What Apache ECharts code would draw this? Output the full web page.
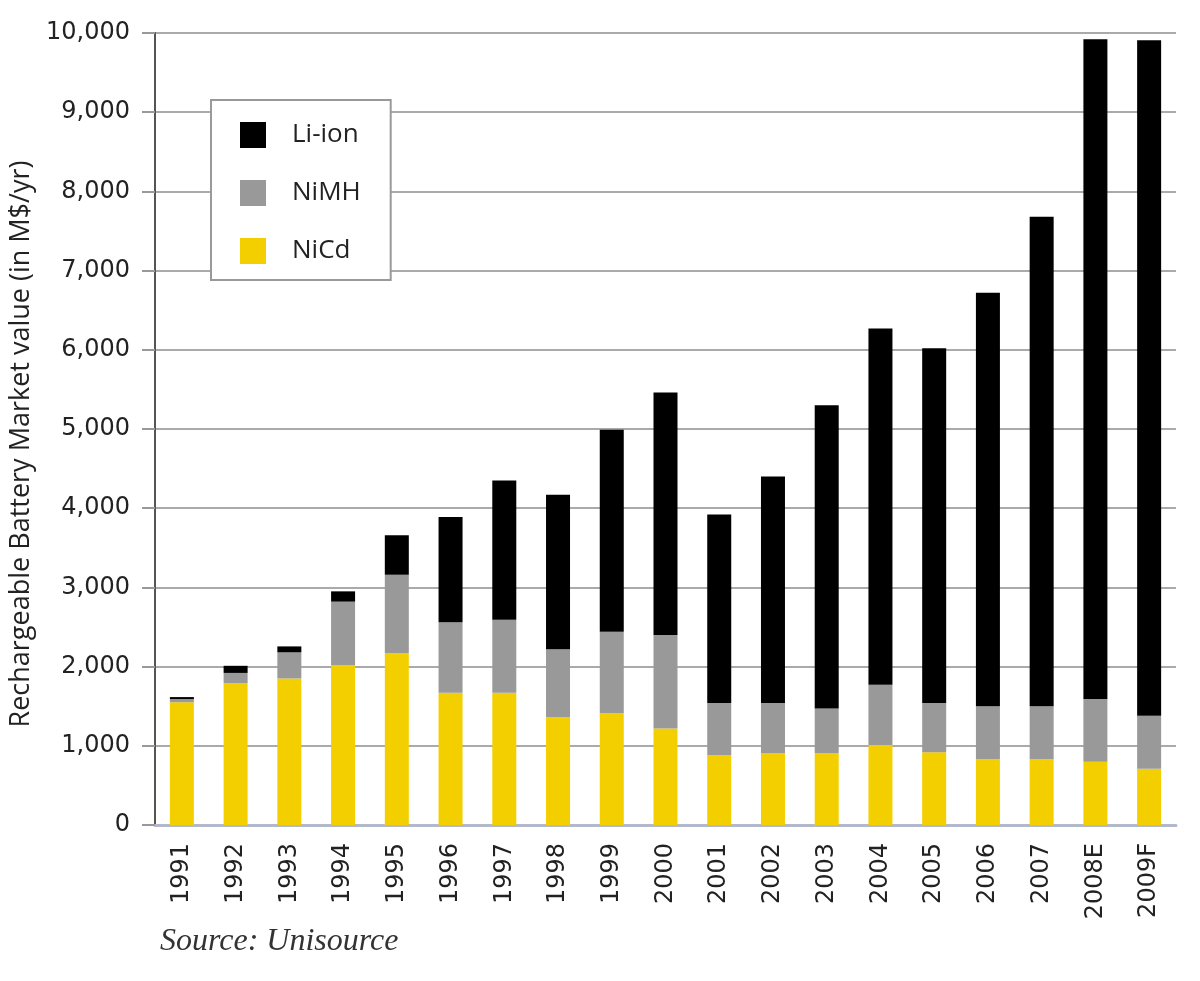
<!DOCTYPE html>
<html>
<head>
<meta charset="utf-8">
<script src="https://cdn.jsdelivr.net/npm/echarts@6/dist/echarts.min.js"></script>
<style>html,body{margin:0;padding:0;background:#fff;}#c{width:1200px;height:981px;}</style>
</head>
<body>
<div id="c"></div>
<script>
const years = ['1991','1992','1993','1994','1995','1996','1997','1998','1999','2000','2001','2002','2003','2004','2005','2006','2007','2008E','2009F'];
const nicd  = [1550,1790,1850,2020,2170,1670,1670,1360,1410,1220,880,910,910,1010,920,830,830,800,710];
const nimh  = [40,130,330,800,990,890,920,860,1030,1180,660,630,560,760,620,670,670,790,670];
const liion = [25,90,75,130,500,1330,1760,1950,2550,3060,2380,2860,3830,4500,4480,5220,6180,8330,8530];
const yTicks = [0,1000,2000,3000,4000,5000,6000,7000,8000,9000,10000];
const yTitle = 'Rechargeable Battery Market value (in M$/yr)';
const source = 'Source: Unisource';

const chart = echarts.init(document.getElementById('c'));
chart.setOption({
  animation: false,
  backgroundColor: '#fff',
  grid: { left: 155, right: 24, top: 33, bottom: 156, containLabel: false },
  legend: {
    orient: 'vertical',
    left: 211, top: 100,
    data: ['Li-ion', 'NiMH', 'NiCd'],
    itemWidth: 26, itemHeight: 26, itemGap: 32,
    padding: [22, 30, 16, 29],
    borderColor: '#999', borderWidth: 2,
    backgroundColor: '#fff',
    icon: 'rect',
    textStyle: { fontFamily: 'Open Sans', fontSize: 26, lineHeight: 26, color: '#222', padding: [0, 0, 0, 21] }
  },
  xAxis: {
    type: 'category',
    data: years,
    axisLine: { lineStyle: { color: '#b4b8cc', width: 3 } },
    axisTick: { show: false },
    axisLabel: { rotate: 90, margin: 18, fontFamily: 'DejaVu Sans', fontSize: 24, color: '#222' }
  },
  yAxis: {
    type: 'value',
    min: 0, max: 10000, interval: 1000,
    axisLine: { show: true, lineStyle: { color: '#555', width: 2 } },
    axisTick: { show: true, length: 13, lineStyle: { color: '#999', width: 2 } },
    splitLine: { lineStyle: { color: '#aaa', width: 2 } },
    axisLabel: {
      margin: 25, fontFamily: 'DejaVu Sans', fontSize: 24, color: '#222',
      formatter: v => yTicks.includes(v) ? v.toLocaleString('en-US') : ''
    }
  },
  series: [
    { name: 'NiCd', type: 'bar', stack: 'a', data: nicd, barWidth: 24, itemStyle: { color: '#f4cf00' } },
    { name: 'NiMH', type: 'bar', stack: 'a', data: nimh, barWidth: 24, itemStyle: { color: '#999999' } },
    { name: 'Li-ion', type: 'bar', stack: 'a', data: liion, barWidth: 24, itemStyle: { color: '#000000' } }
  ],
  graphic: [
    { type: 'text', x: 21, y: 444, rotation: Math.PI / 2,
      style: { text: yTitle, font: '27px "Open Sans"', fill: '#222', align: 'center', verticalAlign: 'middle' } },
    { type: 'text', left: 160, top: 926,
      style: { text: source, font: 'italic 32px "Liberation Serif"', fill: '#333' } }
  ]
});
</script>
</body>
</html>
